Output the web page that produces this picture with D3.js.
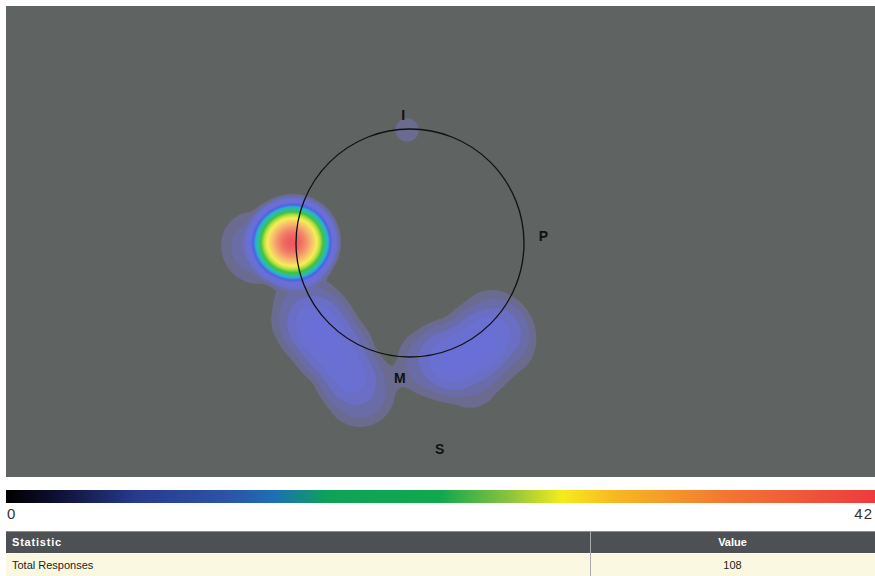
<!DOCTYPE html>
<html>
<head>
<meta charset="utf-8">
<script src="https://cdn.jsdelivr.net/npm/d3@7"></script>
<style>
  body { margin: 0; background: #fff; }
  svg { display: block; font-family: "Liberation Sans", Arial, sans-serif; }
  .lbl { font-weight: bold; font-size: 14px; fill: #111; }
  .tbl { font-family: "Liberation Sans Narrow", "Liberation Sans", Arial, sans-serif; font-size: 11px; }
</style>
</head>
<body>
<svg id="svg" width="875" height="576"></svg>
<script>
// response clusters, in circle units (circle centre = 0,0, radius = 1)
var spotX = [-1.026, -1.386, -1.298, -0.877, -0.719, -0.596, -0.439, -0.965, 0.193, 0.456, 0.719, 0.526, 0.833, -0.026];
var spotY = [-0.009, -0.009, 0.167, 0.605, 0.833, 1.044, 1.307, 0.807, 1.044, 0.939, 0.719, 1.184, 0.895, -0.991];
var spotN = [42, 2, 1, 3, 3, 3, 3, 1, 3, 3, 3, 2, 2, 1];

var zoneNames = ["I", "P", "M", "S"];
var zoneX = [-0.06, 1.17, -0.09, 0.26];
var zoneY = [-1.12, -0.06, 1.18, 1.81];

var scaleMin = 0, scaleMax = 42;
var statNames = ["Total Responses"];
var statValues = [108];

var svg = d3.select("#svg");

var panel = {x: 6, y: 6, w: 869, h: 471};
var centre = {x: 410, y: 243};
var radius = 114;
var bandwidth = 52;   // kernel radius, px
var cell = 2;

var xs = d3.scaleLinear().domain([-1, 1]).range([centre.x - radius, centre.x + radius]);
var ys = d3.scaleLinear().domain([-1, 1]).range([centre.y - radius, centre.y + radius]);

svg.append("rect")
  .attr("x", panel.x).attr("y", panel.y)
  .attr("width", panel.w).attr("height", panel.h)
  .attr("fill", "#5f6362");

// density grid
var gw = Math.ceil(panel.w / cell), gh = Math.ceil(panel.h / cell);
var grid = new Float64Array(gw * gh);
var spots = spotN.map((n, i) => ({px: xs(spotX[i]), py: ys(spotY[i]), n: n}));
for (var j = 0; j < gh; j++) {
  for (var i = 0; i < gw; i++) {
    var px = panel.x + (i + 0.5) * cell, py = panel.y + (j + 0.5) * cell;
    var v = 0;
    spots.forEach(s => {
      var d2 = ((px - s.px) ** 2 + (py - s.py) ** 2) / (bandwidth * bandwidth);
      if (d2 < 1) v += s.n * (1 - d2) * (1 - d2);
    });
    grid[j * gw + i] = v;
  }
}

var lowLevels = [0.9, 1.7, 2.8, 4.0, 5.4];
var lowColors = ["#6a6b8e", "#6a6ca8", "#6a6ec4", "#6a70d2", "#6a6fd8"];
var highLevels = d3.range(7, scaleMax + 1, 1);
var heatColor = d3.scaleLinear()
  .domain([7, 9.5, 12, 15, 18, 22, 26, 33, 42])
  .range(["#6c6ed8", "#4a62e2", "#2aaed6", "#30c090", "#40c048", "#b8e040", "#f6ee5a", "#f6b070", "#ee5a60"])
  .clamp(true);

var levels = lowLevels.concat(highLevels);
var contours = d3.contours().size([gw, gh]).thresholds(levels)(grid);

svg.append("g")
  .attr("transform", "translate(" + panel.x + "," + panel.y + ") scale(" + cell + ")")
  .selectAll("path")
  .data(contours)
  .join("path")
  .attr("d", d3.geoPath())
  .attr("fill", (d, i) => i < lowLevels.length ? lowColors[i] : heatColor(d.value));

// zone circle
svg.append("circle")
  .attr("cx", xs(0)).attr("cy", ys(0))
  .attr("r", xs(1) - xs(0))
  .attr("fill", "none")
  .attr("stroke", "#111")
  .attr("stroke-width", 1.3);

svg.selectAll(".lbl")
  .data(zoneNames)
  .join("text")
  .attr("class", "lbl")
  .attr("x", (d, i) => xs(zoneX[i]))
  .attr("y", (d, i) => ys(zoneY[i]))
  .attr("text-anchor", "middle")
  .attr("dominant-baseline", "central")
  .text(d => d);

// colour bar
var barStops = [
  [0, "#000000"], [0.05, "#0c0c2c"], [0.15, "#283a8e"], [0.26, "#2a56aa"],
  [0.31, "#1c70b4"], [0.37, "#0ea258"], [0.5, "#10a84e"], [0.58, "#8cc43c"],
  [0.64, "#f4ec1c"], [0.7, "#f8b822"], [0.83, "#f27632"], [1, "#ee3a3e"]
];
var defs = svg.append("defs");
var grad = defs.append("linearGradient").attr("id", "bar").attr("x1", 0).attr("x2", 1).attr("y1", 0).attr("y2", 0);
grad.selectAll("stop").data(barStops).join("stop")
  .attr("offset", d => d[0]).attr("stop-color", d => d[1]);

var barScale = d3.scaleLinear().domain([scaleMin, scaleMax]).range([panel.x, 875]);
svg.append("rect")
  .attr("x", barScale(scaleMin)).attr("y", 490)
  .attr("width", barScale(scaleMax) - barScale(scaleMin)).attr("height", 13)
  .attr("fill", "url(#bar)");

svg.append("text").attr("x", barScale(scaleMin) + 1).attr("y", 519)
  .attr("font-size", 15).attr("fill", "#333").text(scaleMin);
svg.append("text").attr("x", barScale(scaleMax) - 2).attr("y", 519)
  .attr("text-anchor", "end").attr("font-size", 15).attr("fill", "#333")
  .attr("letter-spacing", 1).text(scaleMax);

// statistics table
var colX = 590;
var tbl = svg.append("g").attr("class", "tbl");
tbl.append("rect").attr("x", panel.x).attr("y", 531).attr("width", 875 - panel.x).attr("height", 22).attr("fill", "#4d5153");
tbl.append("line").attr("x1", panel.x).attr("x2", 875).attr("y1", 531.5).attr("y2", 531.5).attr("stroke", "#8a8d8e");
tbl.append("text").attr("x", 12).attr("y", 546).attr("fill", "#fff").attr("font-weight", "bold")
  .attr("letter-spacing", 0.8).text("Statistic");
tbl.append("text").attr("x", (colX + 875) / 2).attr("y", 546).attr("fill", "#fff").attr("font-weight", "bold")
  .attr("text-anchor", "middle").text("Value");

var rows = tbl.selectAll(".row").data(statNames).join("g").attr("class", "row")
  .attr("transform", (d, i) => "translate(0," + (554 + i * 22) + ")");
rows.append("rect").attr("x", panel.x).attr("width", 875 - panel.x).attr("height", 22).attr("fill", "#fbf8e2");
rows.append("text").attr("x", 12).attr("y", 15).attr("fill", "#222").text(d => d);
rows.append("text").attr("x", (colX + 875) / 2).attr("y", 15).attr("fill", "#222")
  .attr("text-anchor", "middle").text((d, i) => statValues[i]);

tbl.append("line").attr("x1", colX + 0.5).attr("x2", colX + 0.5).attr("y1", 531).attr("y2", 576)
  .attr("stroke", "#a9abab");
</script>
</body>
</html>
